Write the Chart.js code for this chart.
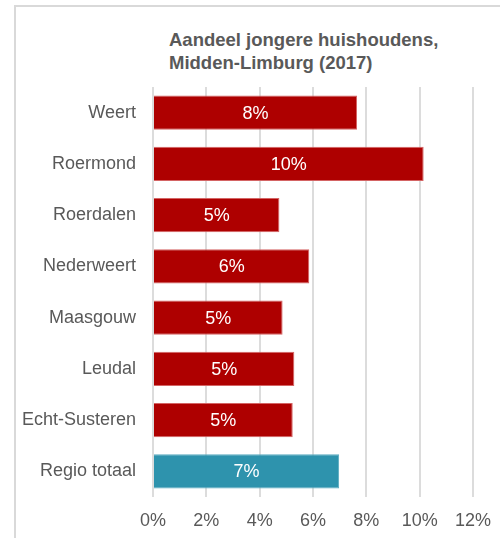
<!DOCTYPE html>
<html>
<head>
<meta charset="utf-8">
<script src="https://cdn.jsdelivr.net/npm/chart.js@4"></script>
<style>
  body { margin: 0; background: #fff; }
  #wrap { position: relative; width: 500px; height: 538px; overflow: hidden; }
  #frame { position: absolute; left: 14px; top: 5px; width: 520px; height: 560px;
           border-left: 2px solid #d9d9d9; border-top: 2px solid #d9d9d9; }
  #title { position: absolute; left: 169px; top: 28px; color: #595959;
           font: bold 18.5px "Liberation Sans", Arial, sans-serif; line-height: 23px; }
  canvas { position: absolute; left: 0; top: 0; }
</style>
</head>
<body>
<div id="wrap">
  <div id="frame"></div>
  <div id="title">Aandeel jongere huishoudens,<br>Midden-Limburg (2017)</div>
  <canvas id="chart" width="500" height="538"></canvas>
</div>
<script>
// categories and values (share of younger households, %)
const gemeenten = ['Weert', 'Roermond', 'Roerdalen', 'Nederweert', 'Maasgouw', 'Leudal', 'Echt-Susteren', 'Regio totaal'];
const aandeel = [7.65, 10.15, 4.74, 5.86, 4.86, 5.30, 5.24, 6.98];
const xTicks = [0, 2, 4, 6, 8, 10, 12];

const red = '#ae0000';
const teal = '#2e93ad';
const barColors = gemeenten.map(g => g === 'Regio totaal' ? teal : red);
const borderColors = gemeenten.map(g => g === 'Regio totaal' ? '#5aaac0' : '#d46464');

const fontFamily = '"Liberation Sans", Arial, sans-serif';

// write the rounded value in the middle of each bar
const barLabels = {
  id: 'barLabels',
  afterDatasetsDraw(chart) {
    const ctx = chart.ctx;
    const meta = chart.getDatasetMeta(0);
    ctx.save();
    ctx.fillStyle = '#ffffff';
    ctx.font = '18px ' + fontFamily;
    ctx.textAlign = 'center';
    ctx.textBaseline = 'middle';
    meta.data.forEach((bar, i) => {
      const x = (bar.x + bar.base) / 2;
      ctx.fillText(Math.round(aandeel[i]) + '%', x, bar.y + 1);
    });
    ctx.restore();
  }
};

const ctx = document.getElementById('chart').getContext('2d');
new Chart(ctx, {
  type: 'bar',
  data: {
    labels: gemeenten,
    datasets: [{
      data: aandeel,
      backgroundColor: barColors,
      borderColor: borderColors,
      borderWidth: 1,
      categoryPercentage: 1,
      barPercentage: 0.67
    }]
  },
  options: {
    indexAxis: 'y',
    responsive: false,
    animation: false,
    layout: { padding: { top: 87, right: 27, left: 0, bottom: 0 } },
    scales: {
      x: {
        min: 0,
        max: 12,
        afterBuildTicks: scale => { scale.ticks = xTicks.map(v => ({ value: v })); },
        afterFit: scale => {
          scale.height = 41;
          scale.paddingLeft = 0;
          scale.paddingRight = 0;
        },
        grid: { color: '#dcdcdc', lineWidth: 2, drawTicks: false },
        border: { display: false },
        ticks: {
          padding: 13,
          color: '#595959',
          font: { family: fontFamily, size: 18 },
          callback: v => v + '%'
        }
      },
      y: {
        afterFit: scale => { scale.width = 153; },
        grid: { display: false },
        border: { display: false },
        ticks: {
          padding: 9,
          color: '#595959',
          font: { family: fontFamily, size: 18 }
        }
      }
    },
    plugins: {
      legend: { display: false },
      tooltip: { enabled: false }
    }
  },
  plugins: [barLabels]
});
</script>
</body>
</html>
